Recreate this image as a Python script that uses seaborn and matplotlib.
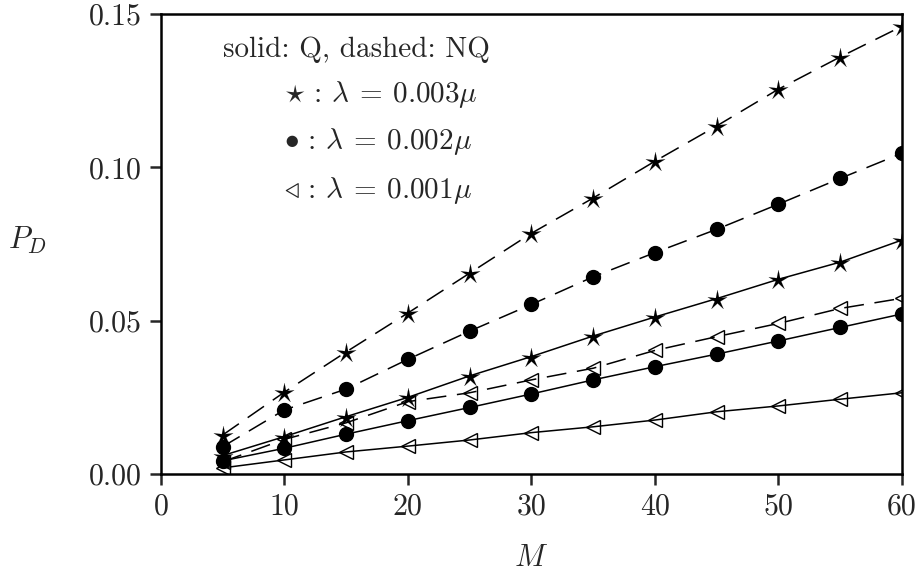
import numpy as np
import pandas as pd
import matplotlib
matplotlib.use("Agg")
import matplotlib.pyplot as plt
import seaborn as sns

M = [5, 10, 15, 20, 25, 30, 35, 40, 45, 50, 55, 60]
nq_003 = [0.0127, 0.0267, 0.0398, 0.0525, 0.0655, 0.0785, 0.0900, 0.1020, 0.1135, 0.1255, 0.1360, 0.1460]
q_003 = [0.0060, 0.0122, 0.0187, 0.0250, 0.0320, 0.0383, 0.0450, 0.0512, 0.0572, 0.0635, 0.0691, 0.0763]
nq_002 = [0.0089, 0.0209, 0.0277, 0.0374, 0.0466, 0.0553, 0.0643, 0.0722, 0.0798, 0.0880, 0.0964, 0.1046]
q_002 = [0.0043, 0.0084, 0.0130, 0.0174, 0.0217, 0.0261, 0.0307, 0.0350, 0.0391, 0.0434, 0.0478, 0.0522]
nq_001 = [0.0040, 0.0113, 0.0167, 0.0236, 0.0265, 0.0307, 0.0345, 0.0403, 0.0448, 0.0491, 0.0540, 0.0573]
q_001 = [0.0020, 0.0046, 0.0072, 0.0091, 0.0111, 0.0135, 0.0154, 0.0176, 0.0203, 0.0222, 0.0244, 0.0265]

x_ticks = [0, 10, 20, 30, 40, 50, 60]
y_ticks = [0.00, 0.05, 0.10, 0.15]
y_ticklabels = ["0.00", "0.05", "0.10", "0.15"]

sns.set_style("ticks")
plt.rcParams["font.family"] = ["cmr10", "DejaVu Serif"]
plt.rcParams["mathtext.fontset"] = "cm"
plt.rcParams["axes.unicode_minus"] = False
plt.rcParams["axes.formatter.use_mathtext"] = True

fig = plt.figure(figsize=(9.19, 5.79), dpi=100)
ax = fig.add_axes([0.175, 0.1813, 0.9815 - 0.175, 0.9758 - 0.1813])

dash = (0, (13, 7))
series = [
    (nq_003, r"$\star$", "black", dash, 14),
    (q_003, r"$\star$", "black", "-", 14),
    (nq_002, "o", "black", dash, 10),
    (q_002, "o", "black", "-", 10),
    (nq_001, "<", "none", dash, 10.5),
    (q_001, "<", "none", "-", 10.5),
]
for vals, mk, mfc, ls, ms in series:
    df = pd.DataFrame({"M": M, "P": vals})
    ew = 0.1 if mk.startswith("$") else 1.0
    sns.lineplot(data=df, x="M", y="P", ax=ax, color="black", linewidth=1.1,
                 linestyle=ls, marker=mk, markersize=ms, markerfacecolor=mfc,
                 markeredgecolor="black", markeredgewidth=ew, legend=False)

ax.set_xlim(0, 60)
ax.set_ylim(0, 0.15)
ax.set_xticks(x_ticks)
ax.set_xticklabels([str(t) for t in x_ticks])
ax.set_yticks(y_ticks)
ax.set_yticklabels(y_ticklabels)
ax.tick_params(axis="both", direction="out", length=8, width=1.8, labelsize=21.5, pad=6)
for s in ax.spines.values():
    s.set_visible(True)
    s.set_linewidth(1.8)
    s.set_color("black")

ax.set_xlabel(r"$M$", fontsize=22, labelpad=17)
ax.set_ylabel(r"$P_D$", fontsize=22, rotation=0)
ax.yaxis.set_label_coords(-0.18, 0.475)

fs = 21
ax.text(0.084, 0.922, "solid: Q, dashed: NQ", transform=ax.transAxes, fontsize=fs, va="center", ha="left")
ax.text(0.166, 0.824, r"$\star\,:\,\lambda\:=\:0.003\mu$", transform=ax.transAxes, fontsize=fs, va="center", ha="left")
ax.text(0.166, 0.722, r"$\bullet\,:\,\lambda\:=\:0.002\mu$", transform=ax.transAxes, fontsize=fs, va="center", ha="left")
ax.text(0.166, 0.617, r"$\triangleleft\,:\,\lambda\:=\:0.001\mu$", transform=ax.transAxes, fontsize=fs, va="center", ha="left")

fig.savefig("out.png", dpi=100)
